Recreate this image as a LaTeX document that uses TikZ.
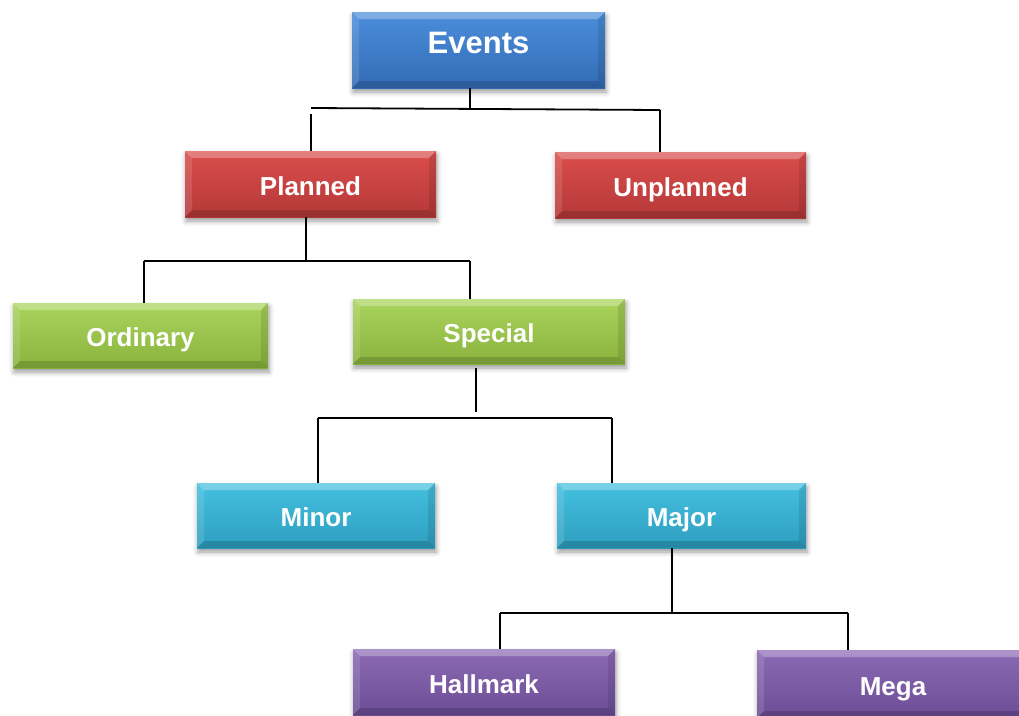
\documentclass[tikz,border=0pt]{standalone}
\usepackage{fontspec}
\setmainfont{Liberation Sans}
\usetikzlibrary{shadows.blur}
\definecolor{bluetop}{HTML}{4B8EDB}
\definecolor{bluebot}{HTML}{336BB5}
\definecolor{redtop}{HTML}{DA4E4C}
\definecolor{redbot}{HTML}{B53838}
\definecolor{greentop}{HTML}{A9D45C}
\definecolor{greenbot}{HTML}{8AB33E}
\definecolor{cyantop}{HTML}{45C0E0}
\definecolor{cyanbot}{HTML}{2E9EBF}
\definecolor{purptop}{HTML}{8C6AB5}
\definecolor{purpbot}{HTML}{6B4D95}
\begin{document}
\begin{tikzpicture}[x=1pt,y=-1pt,
  evbox/.style 2 args={rectangle, inner sep=0pt, text=white,
    top color=#1, bottom color=#2,
    font=\bfseries\fontsize{26}{30}\selectfont,
    text height=22pt, text depth=0pt,
    blur shadow={shadow xshift=1pt, shadow yshift=-4pt, shadow blur radius=5pt, shadow opacity=40},
    path picture={
      \fill[white,opacity=0.28] (path picture bounding box.north west) -- (path picture bounding box.north east)
        -- ([xshift=-7pt,yshift=-7pt]path picture bounding box.north east) -- ([xshift=7pt,yshift=-7pt]path picture bounding box.north west) -- cycle;
      \fill[white,opacity=0.12] (path picture bounding box.north west) -- ([xshift=7pt,yshift=-7pt]path picture bounding box.north west)
        -- ([xshift=7pt,yshift=7pt]path picture bounding box.south west) -- (path picture bounding box.south west) -- cycle;
      \fill[black,opacity=0.15] (path picture bounding box.south west) -- (path picture bounding box.south east)
        -- ([xshift=-7pt,yshift=7pt]path picture bounding box.south east) -- ([xshift=7pt,yshift=7pt]path picture bounding box.south west) -- cycle;
      \fill[black,opacity=0.1] (path picture bounding box.north east) -- ([xshift=-7pt,yshift=-7pt]path picture bounding box.north east)
        -- ([xshift=-7pt,yshift=7pt]path picture bounding box.south east) -- (path picture bounding box.south east) -- cycle;
    }},
  conn/.style={draw=black, line width=1.8pt}]
\useasboundingbox (0,0) rectangle (1019,715);

\node[evbox={bluetop}{bluebot}, minimum width=253pt, minimum height=76pt, font=\bfseries\fontsize{31}{34}\selectfont, text height=22.2pt, text depth=16pt] (ev) at (478.5,50) {Events};
\node[evbox={redtop}{redbot}, minimum width=251pt, minimum height=66pt] (pl) at (310.5,184) {Planned};
\node[evbox={redtop}{redbot}, minimum width=251pt, minimum height=66pt] (un) at (680.5,185) {Unplanned};
\node[evbox={greentop}{greenbot}, minimum width=255pt, minimum height=65pt] (or) at (140.5,335.5) {Ordinary};
\node[evbox={greentop}{greenbot}, minimum width=272pt, minimum height=65pt] (sp) at (489,331.5) {Special};
\node[evbox={cyantop}{cyanbot}, minimum width=238pt, minimum height=65pt] (mi) at (316,515.5) {Minor};
\node[evbox={cyantop}{cyanbot}, minimum width=249pt, minimum height=65pt] (ma) at (681.5,515.5) {Major};
\node[evbox={purptop}{purpbot}, minimum width=262pt, minimum height=66pt] (ha) at (484,682) {Hallmark};
\node[evbox={purptop}{purpbot}, minimum width=272pt, minimum height=68pt] (me) at (893,684) {Mega};

\coordinate (j1) at (470,108);
\coordinate (h1l) at (311,108);
\coordinate (h1r) at (660,110);
\coordinate (v1l) at (311,114);
\draw[conn] (ev.south -| j1) -- (j1);
\draw[conn] (h1l) -- (h1r);
\draw[conn] (v1l) -- (pl.north -| v1l);
\draw[conn] (h1r) -- (un.north -| h1r);

\coordinate (j2) at (306,261);
\coordinate (h2l) at (144,261);
\coordinate (h2r) at (470,261);
\draw[conn] (pl.south -| j2) -- (j2);
\draw[conn] (h2l) -- (h2r);
\draw[conn] (h2l) -- (or.north -| h2l);
\draw[conn] (h2r) -- (sp.north -| h2r);

\coordinate (s3) at (476,368);
\coordinate (j3) at (476,412);
\coordinate (h3l) at (318,418);
\coordinate (h3r) at (612,418);
\draw[conn] (s3) -- (j3);
\draw[conn] (h3l) -- (h3r);
\draw[conn] (h3l) -- (mi.north -| h3l);
\draw[conn] (h3r) -- (ma.north -| h3r);

\coordinate (j4) at (672,613);
\coordinate (h4l) at (500,613);
\coordinate (h4r) at (848,613);
\draw[conn] (ma.south -| j4) -- (j4);
\draw[conn] (h4l) -- (h4r);
\draw[conn] (h4l) -- (ha.north -| h4l);
\draw[conn] (h4r) -- (me.north -| h4r);
\end{tikzpicture}
\end{document}
